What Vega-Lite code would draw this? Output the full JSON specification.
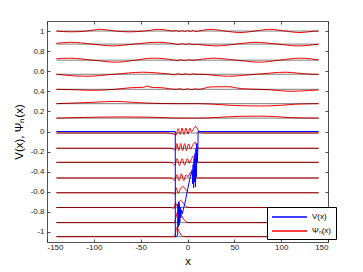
{
 "$schema": "https://vega.github.io/schema/vega-lite/v6.json",
 "width": 281, "height": 221,
 "autosize": {"type": "none"},
 "padding": {"left": 47, "top": 21, "right": 35, "bottom": 30},
 "background": "white",
 "config": {
   "view": {"stroke": null},
   "font": "Liberation Sans",
   "axis": {"grid": false, "domainColor": "#262626", "domainWidth": 0.8, "tickColor": "#262626", "tickWidth": 0.8, "tickSize": -3, "labelFont": "Liberation Sans", "labelFontSize": 8, "labelColor": "#262626", "titleFont": "Liberation Sans", "titleFontSize": 11.5, "titleFontWeight": "normal", "titleColor": "#000"}
 },
 "datasets": {
  "E": [{"E": 1.0}, {"E": 0.87}, {"E": 0.71}, {"E": 0.57}, {"E": 0.42}, {"E": 0.277}, {"E": 0.133}, {"E": -0.015}, {"E": -0.167}, {"E": -0.307}, {"E": -0.463}, {"E": -0.61}, {"E": -0.757}, {"E": -0.907}, {"E": -1.047}],
  "V": [
   {"x": -140, "V": 0}, {"x": -13.05, "V": 0}, {"x": -13, "V": -1.05}, {"x": -12, "V": -1.048}, {"x": -10.5, "V": -1.03}, {"x": -10.2, "V": -0.72}, {"x": -9.8, "V": -0.95}, {"x": -9.4, "V": -0.7}, {"x": -9, "V": -0.93}, {"x": -8.6, "V": -0.72}, {"x": -8.2, "V": -0.9}, {"x": -7.8, "V": -0.75}, {"x": -7.2, "V": -0.86}, {"x": -6.6, "V": -0.78}, {"x": -5.5, "V": -0.82}, {"x": -4.8, "V": -0.79}, {"x": -2, "V": -0.68}, {"x": 0.5, "V": -0.56}, {"x": 3, "V": -0.45}, {"x": 5, "V": -0.38}, {"x": 5.6, "V": -0.52}, {"x": 6, "V": -0.33}, {"x": 6.5, "V": -0.56}, {"x": 7, "V": -0.27}, {"x": 7.5, "V": -0.5}, {"x": 8, "V": -0.22}, {"x": 8.5, "V": -0.55}, {"x": 9, "V": -0.17}, {"x": 9.5, "V": -0.45}, {"x": 10, "V": -0.12}, {"x": 10.6, "V": -0.3}, {"x": 11.25, "V": -0.1}, {"x": 11.3, "V": 0}, {"x": 140, "V": 0}
  ],
  "psi": [
   {"n": 1, "x": -140, "y": 1.0}, {"n": 1, "x": -124, "y": 0.992}, {"n": 1, "x": -108, "y": 1.0}, {"n": 1, "x": -93, "y": 1.017}, {"n": 1, "x": -77, "y": 1.0}, {"n": 1, "x": -62, "y": 0.992}, {"n": 1, "x": -46, "y": 1.0}, {"n": 1, "x": -30, "y": 1.017}, {"n": 1, "x": -15, "y": 1.0}, {"n": 1, "x": -12, "y": 1.005}, {"n": 1, "x": -9, "y": 0.995}, {"n": 1, "x": -6, "y": 1.005}, {"n": 1, "x": -3, "y": 0.995}, {"n": 1, "x": 0, "y": 1.005}, {"n": 1, "x": 3, "y": 0.995}, {"n": 1, "x": 6, "y": 1.005}, {"n": 1, "x": 9, "y": 0.996}, {"n": 1, "x": 12, "y": 1.0}, {"n": 1, "x": 25, "y": 1.017}, {"n": 1, "x": 40, "y": 1.0}, {"n": 1, "x": 56, "y": 0.985}, {"n": 1, "x": 72, "y": 1.0}, {"n": 1, "x": 88, "y": 1.017}, {"n": 1, "x": 104, "y": 1.0}, {"n": 1, "x": 120, "y": 0.985}, {"n": 1, "x": 136, "y": 0.999}, {"n": 1, "x": 140, "y": 1.0},
   {"n": 2, "x": -140, "y": 0.878}, {"n": 2, "x": -124, "y": 0.888}, {"n": 2, "x": -102, "y": 0.87}, {"n": 2, "x": -80, "y": 0.852}, {"n": 2, "x": -57, "y": 0.87}, {"n": 2, "x": -33, "y": 0.888}, {"n": 2, "x": -14, "y": 0.873}, {"n": 2, "x": -10, "y": 0.866}, {"n": 2, "x": -6, "y": 0.874}, {"n": 2, "x": -2, "y": 0.866}, {"n": 2, "x": 2, "y": 0.874}, {"n": 2, "x": 6, "y": 0.866}, {"n": 2, "x": 10, "y": 0.868}, {"n": 2, "x": 12, "y": 0.866}, {"n": 2, "x": 31, "y": 0.852}, {"n": 2, "x": 52, "y": 0.87}, {"n": 2, "x": 73, "y": 0.888}, {"n": 2, "x": 96, "y": 0.87}, {"n": 2, "x": 118, "y": 0.852}, {"n": 2, "x": 140, "y": 0.87},
   {"n": 3, "x": -140, "y": 0.724}, {"n": 3, "x": -126, "y": 0.73}, {"n": 3, "x": -101, "y": 0.71}, {"n": 3, "x": -76, "y": 0.69}, {"n": 3, "x": -56, "y": 0.71}, {"n": 3, "x": -37, "y": 0.73}, {"n": 3, "x": -15, "y": 0.712}, {"n": 3, "x": -11, "y": 0.705}, {"n": 3, "x": -7, "y": 0.715}, {"n": 3, "x": -3, "y": 0.705}, {"n": 3, "x": 1, "y": 0.715}, {"n": 3, "x": 5, "y": 0.71}, {"n": 3, "x": 27, "y": 0.73}, {"n": 3, "x": 52, "y": 0.71}, {"n": 3, "x": 77, "y": 0.69}, {"n": 3, "x": 98, "y": 0.71}, {"n": 3, "x": 120, "y": 0.73}, {"n": 3, "x": 140, "y": 0.713},
   {"n": 4, "x": -140, "y": 0.57}, {"n": 4, "x": -130, "y": 0.56}, {"n": 4, "x": -108, "y": 0.55}, {"n": 4, "x": -78, "y": 0.57}, {"n": 4, "x": -48, "y": 0.59}, {"n": 4, "x": -20, "y": 0.572}, {"n": 4, "x": -14, "y": 0.566}, {"n": 4, "x": -10, "y": 0.574}, {"n": 4, "x": -6, "y": 0.566}, {"n": 4, "x": -2, "y": 0.574}, {"n": 4, "x": 2, "y": 0.566}, {"n": 4, "x": 6, "y": 0.574}, {"n": 4, "x": 10, "y": 0.568}, {"n": 4, "x": 13, "y": 0.57}, {"n": 4, "x": 43, "y": 0.55}, {"n": 4, "x": 74, "y": 0.57}, {"n": 4, "x": 105, "y": 0.59}, {"n": 4, "x": 128, "y": 0.572}, {"n": 4, "x": 140, "y": 0.568},
   {"n": 5, "x": -140, "y": 0.42}, {"n": 5, "x": -118, "y": 0.415}, {"n": 5, "x": -100, "y": 0.41}, {"n": 5, "x": -78, "y": 0.42}, {"n": 5, "x": -60, "y": 0.436}, {"n": 5, "x": -47, "y": 0.44}, {"n": 5, "x": -43, "y": 0.452}, {"n": 5, "x": -39, "y": 0.44}, {"n": 5, "x": -28, "y": 0.436}, {"n": 5, "x": -12, "y": 0.42}, {"n": 5, "x": -8, "y": 0.426}, {"n": 5, "x": -4, "y": 0.416}, {"n": 5, "x": 0, "y": 0.426}, {"n": 5, "x": 4, "y": 0.416}, {"n": 5, "x": 8, "y": 0.424}, {"n": 5, "x": 12, "y": 0.42}, {"n": 5, "x": 25, "y": 0.444}, {"n": 5, "x": 43, "y": 0.446}, {"n": 5, "x": 58, "y": 0.426}, {"n": 5, "x": 75, "y": 0.42}, {"n": 5, "x": 90, "y": 0.414}, {"n": 5, "x": 109, "y": 0.4}, {"n": 5, "x": 130, "y": 0.408}, {"n": 5, "x": 140, "y": 0.414},
   {"n": 6, "x": -140, "y": 0.277}, {"n": 6, "x": -120, "y": 0.284}, {"n": 6, "x": -100, "y": 0.291}, {"n": 6, "x": -76, "y": 0.3}, {"n": 6, "x": -60, "y": 0.291}, {"n": 6, "x": -40, "y": 0.282}, {"n": 6, "x": -12, "y": 0.277}, {"n": 6, "x": 12, "y": 0.277}, {"n": 6, "x": 30, "y": 0.27}, {"n": 6, "x": 50, "y": 0.259}, {"n": 6, "x": 77, "y": 0.254}, {"n": 6, "x": 100, "y": 0.261}, {"n": 6, "x": 115, "y": 0.272}, {"n": 6, "x": 140, "y": 0.277},
   {"n": 7, "x": -140, "y": 0.133}, {"n": 7, "x": -120, "y": 0.138}, {"n": 7, "x": -95, "y": 0.143}, {"n": 7, "x": -70, "y": 0.145}, {"n": 7, "x": -45, "y": 0.143}, {"n": 7, "x": -22, "y": 0.137}, {"n": 7, "x": -12, "y": 0.133}, {"n": 7, "x": 12, "y": 0.133}, {"n": 7, "x": 30, "y": 0.139}, {"n": 7, "x": 55, "y": 0.151}, {"n": 7, "x": 75, "y": 0.153}, {"n": 7, "x": 95, "y": 0.148}, {"n": 7, "x": 110, "y": 0.138}, {"n": 7, "x": 140, "y": 0.133},
   {"n": 8, "x": -140, "y": -0.015}, {"n": 8, "x": -22, "y": -0.015}, {"n": 8, "x": -17, "y": -0.02}, {"n": 8, "x": -14, "y": -0.03}, {"n": 8, "x": -12, "y": -0.035}, {"n": 8, "x": -10.1, "y": 0.03}, {"n": 8, "x": -7.8, "y": -0.03}, {"n": 8, "x": -5.8, "y": 0.035}, {"n": 8, "x": -3.7, "y": -0.03}, {"n": 8, "x": -1.7, "y": 0.035}, {"n": 8, "x": 0.5, "y": -0.025}, {"n": 8, "x": 2.5, "y": 0.032}, {"n": 8, "x": 4.3, "y": -0.005}, {"n": 8, "x": 6.2, "y": 0.02}, {"n": 8, "x": 8.7, "y": 0.052}, {"n": 8, "x": 10.5, "y": 0.03}, {"n": 8, "x": 12.3, "y": -0.005}, {"n": 8, "x": 14.8, "y": -0.014}, {"n": 8, "x": 20, "y": -0.015}, {"n": 8, "x": 140, "y": -0.015},
   {"n": 9, "x": -140, "y": -0.167}, {"n": 9, "x": -20, "y": -0.167}, {"n": 9, "x": -15, "y": -0.175}, {"n": 9, "x": -13, "y": -0.19}, {"n": 9, "x": -11.3, "y": -0.12}, {"n": 9, "x": -9.3, "y": -0.19}, {"n": 9, "x": -7.3, "y": -0.12}, {"n": 9, "x": -5.2, "y": -0.19}, {"n": 9, "x": -3.1, "y": -0.12}, {"n": 9, "x": -1, "y": -0.19}, {"n": 9, "x": 1.2, "y": -0.125}, {"n": 9, "x": 3.3, "y": -0.175}, {"n": 9, "x": 5.3, "y": -0.14}, {"n": 9, "x": 8, "y": -0.105}, {"n": 9, "x": 10, "y": -0.15}, {"n": 9, "x": 11.5, "y": -0.168}, {"n": 9, "x": 16, "y": -0.167}, {"n": 9, "x": 140, "y": -0.167},
   {"n": 10, "x": -140, "y": -0.307}, {"n": 10, "x": -19, "y": -0.307}, {"n": 10, "x": -16, "y": -0.315}, {"n": 10, "x": -13.5, "y": -0.335}, {"n": 10, "x": -11.2, "y": -0.27}, {"n": 10, "x": -8.6, "y": -0.34}, {"n": 10, "x": -5.8, "y": -0.27}, {"n": 10, "x": -3, "y": -0.335}, {"n": 10, "x": -0.3, "y": -0.27}, {"n": 10, "x": 2, "y": -0.315}, {"n": 10, "x": 4, "y": -0.28}, {"n": 10, "x": 6, "y": -0.245}, {"n": 10, "x": 7.8, "y": -0.28}, {"n": 10, "x": 9.5, "y": -0.305}, {"n": 10, "x": 13, "y": -0.307}, {"n": 10, "x": 140, "y": -0.307},
   {"n": 11, "x": -140, "y": -0.463}, {"n": 11, "x": -19, "y": -0.463}, {"n": 11, "x": -16, "y": -0.47}, {"n": 11, "x": -13.5, "y": -0.485}, {"n": 11, "x": -11.3, "y": -0.43}, {"n": 11, "x": -9, "y": -0.49}, {"n": 11, "x": -6.5, "y": -0.42}, {"n": 11, "x": -4, "y": -0.49}, {"n": 11, "x": -1.5, "y": -0.43}, {"n": 11, "x": 0.5, "y": -0.45}, {"n": 11, "x": 3.5, "y": -0.405}, {"n": 11, "x": 5.5, "y": -0.44}, {"n": 11, "x": 8, "y": -0.465}, {"n": 11, "x": 11, "y": -0.463}, {"n": 11, "x": 140, "y": -0.463},
   {"n": 12, "x": -140, "y": -0.61}, {"n": 12, "x": -18, "y": -0.61}, {"n": 12, "x": -15, "y": -0.615}, {"n": 12, "x": -13.5, "y": -0.625}, {"n": 12, "x": -12, "y": -0.56}, {"n": 12, "x": -10, "y": -0.615}, {"n": 12, "x": -7.5, "y": -0.57}, {"n": 12, "x": -5, "y": -0.545}, {"n": 12, "x": -2, "y": -0.58}, {"n": 12, "x": 1, "y": -0.606}, {"n": 12, "x": 4, "y": -0.61}, {"n": 12, "x": 140, "y": -0.61},
   {"n": 13, "x": -140, "y": -0.757}, {"n": 13, "x": -17, "y": -0.757}, {"n": 13, "x": -14.5, "y": -0.765}, {"n": 13, "x": -12.8, "y": -0.71}, {"n": 13, "x": -11, "y": -0.745}, {"n": 13, "x": -7.5, "y": -0.685}, {"n": 13, "x": -4, "y": -0.72}, {"n": 13, "x": -1, "y": -0.75}, {"n": 13, "x": 2.5, "y": -0.757}, {"n": 13, "x": 140, "y": -0.757},
   {"n": 14, "x": -140, "y": -0.907}, {"n": 14, "x": -16, "y": -0.907}, {"n": 14, "x": -14, "y": -0.91}, {"n": 14, "x": -12.5, "y": -0.86}, {"n": 14, "x": -10.5, "y": -0.8}, {"n": 14, "x": -8, "y": -0.815}, {"n": 14, "x": -5, "y": -0.86}, {"n": 14, "x": -2, "y": -0.895}, {"n": 14, "x": 1, "y": -0.907}, {"n": 14, "x": 140, "y": -0.907},
   {"n": 15, "x": -140, "y": -1.047}, {"n": 15, "x": -16, "y": -1.047}, {"n": 15, "x": -14.5, "y": -1.05}, {"n": 15, "x": -13, "y": -1.02}, {"n": 15, "x": -11.5, "y": -0.955}, {"n": 15, "x": -9.5, "y": -0.985}, {"n": 15, "x": -7, "y": -1.03}, {"n": 15, "x": -4.5, "y": -1.045}, {"n": 15, "x": -2, "y": -1.047}, {"n": 15, "x": 140, "y": -1.047}
  ]
 },
 "layer": [
  {"data": {"name": "psi"},
   "mark": {"type": "line", "interpolate": "monotone", "strokeWidth": 1},
   "encoding": {
     "x": {"field": "x", "type": "quantitative", "scale": {"domain": [-150, 150], "nice": false, "zero": false},
           "axis": {"orient": "bottom", "values": [-150, -100, -50, 0, 50, 100, 150], "labelExpr": "toString(datum.value)", "title": "x", "labelPadding": 4, "titlePadding": 4}},
     "y": {"field": "y", "type": "quantitative", "scale": {"domain": [-1.1, 1.1], "nice": false, "zero": false},
           "axis": {"orient": "left", "values": [-1, -0.8, -0.6, -0.4, -0.2, 0, 0.2, 0.4, 0.6, 0.8, 1], "labelExpr": "toString(datum.value)", "title": "V(x), Ψₙ(x)", "labelPadding": 6, "titlePadding": 6}},
     "detail": {"field": "n"},
     "color": {"datum": "Ψₙ(x)", "scale": {"domain": ["V(x)", "Ψₙ(x)"], "range": ["#0000ff", "#ff0000"]},
               "legend": {"orient": "none", "legendX": 220, "legendY": 186, "title": null, "strokeColor": "#000", "fillColor": "#fff", "padding": 4, "symbolType": "M-1,0H6", "symbolSize": 100, "symbolStrokeWidth": 1.5, "labelOffset": 29, "labelFontSize": 8, "labelFont": "Liberation Sans", "labelColor": "#000", "rowPadding": 4, "cornerRadius": 0}}
   }},
  {"data": {"name": "E"},
   "mark": {"type": "rule", "color": "#000", "opacity": 0.5, "strokeWidth": 1},
   "encoding": {
     "x": {"datum": -140, "type": "quantitative", "axis": null},
     "x2": {"datum": 140},
     "y": {"field": "E", "type": "quantitative", "axis": null}
   }},
  {"data": {"name": "V"},
   "mark": {"type": "line", "strokeWidth": 1},
   "encoding": {
     "x": {"field": "x", "type": "quantitative", "axis": {"orient": "top", "values": [-150, -100, -50, 0, 50, 100, 150], "labels": false, "title": null}},
     "y": {"field": "V", "type": "quantitative", "axis": {"orient": "right", "values": [-1, -0.8, -0.6, -0.4, -0.2, 0, 0.2, 0.4, 0.6, 0.8, 1], "labels": false, "title": null}},
     "color": {"datum": "V(x)"}
   }}
 ],
 "resolve": {"axis": {"x": "independent", "y": "independent"}}
}
